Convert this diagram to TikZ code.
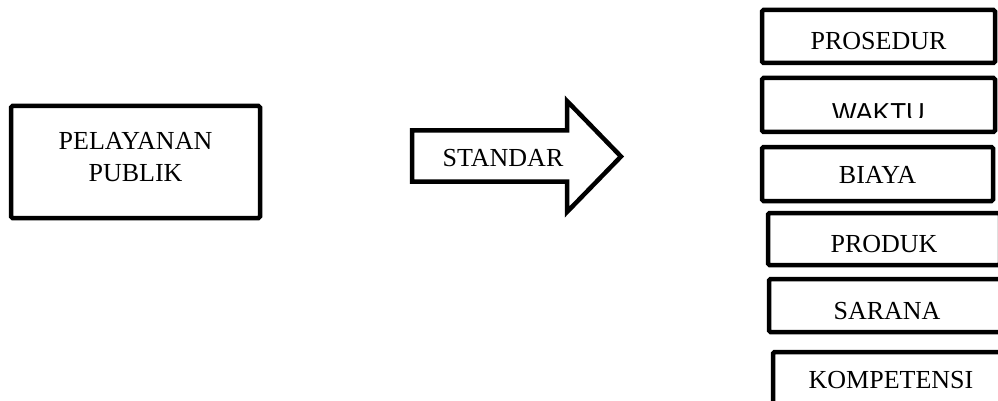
\documentclass[tikz,border=0pt]{standalone}
\usepackage{fontspec}
\setmainfont{Liberation Serif}
\newfontfamily\waktufont{Liberation Sans}

\begin{document}
\begin{tikzpicture}[
  x=1pt, y=-1pt,
  box/.style={rectangle, draw=black, line width=4.5pt, rounded corners=1.5pt, inner sep=0pt, minimum width=233pt, minimum height=53pt, font=\fontsize{26}{32}\selectfont, text height=27pt, text depth=0pt},
  outline/.style={draw=black, line width=4.5pt, line join=miter},
  word/.style={inner sep=0pt, font=\fontsize{26}{32}\selectfont}
]
\useasboundingbox[fill=white] (0,0) rectangle (998,401);
\clip (0,0) rectangle (998,401);

\node[box, align=center, minimum width=249pt, minimum height=112pt, text height=49pt, text depth=10pt] (publik) at (135.5,162) {PELAYANAN\\PUBLIK};

\draw[outline] (412,130.5) -- (567,130.5) -- (567,101) -- (621,156.5) -- (567,212) -- (567,181.5) -- (412,181.5) -- cycle;
\node[word] (standar) at (503,158.5) {STANDAR};

\node[box] (prosedur) at (878.5,36.5) {PROSEDUR};
\node[box, minimum height=54pt] (waktu) at (878.5,105) {};
\begin{scope}
  \clip (762,80) rectangle (995,118);
  \node[word, font=\fontsize{26}{32}\waktufont, anchor=base] (waktutext) at (878.5,121.6) {WAKTU};
\end{scope}
\node[box, minimum width=231pt, minimum height=54pt, text height=19pt] (biaya) at (877.5,174) {BIAYA};
\node[box, minimum width=232pt, minimum height=52pt] (produk) at (884,239) {PRODUK};
\node[box, minimum width=236pt] (sarana) at (887,305.5) {SARANA};
\node[box, minimum width=236pt, text height=19pt] (kompetensi) at (891,378.5) {KOMPETENSI};
\end{tikzpicture}
\end{document}
